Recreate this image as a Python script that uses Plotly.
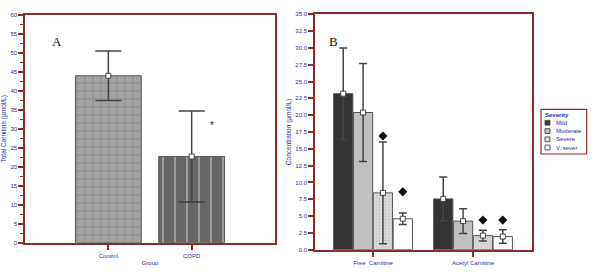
import plotly.graph_objects as go

# ---------------- data ----------------
groups_a = ["Control", "COPD"]
total_carnitine = [44.0, 22.7]
total_carnitine_sd = [6.5, 12.0]

categories_b = ["Free  Carnitine", "Acetyl Carnitine"]
severity = ["Mild", "Moderate", "Severe", "V. sever"]
mild = [23.2, 7.55]
mild_sd = [6.8, 3.25]
moderate = [20.4, 4.25]
moderate_sd = [7.3, 1.85]
severe = [8.45, 2.1]
severe_sd = [7.55, 0.8]
vsever = [4.6, 1.95]
vsever_sd = [0.85, 1.0]
sig_severe = [16.9, 4.4]
sig_vsever = [8.6, 4.4]
star_y = 31

# ---------------- styles ----------------
BLUE = "#2a2aa8"
RED = "#8e2a2a"
ERR = "#444444"
FONT = "Liberation Sans, Arial, sans-serif"
FS = 6

fig = go.Figure()

# Panel A bars
fig.add_trace(go.Bar(
    x=groups_a, y=total_carnitine, width=0.79,
    marker=dict(
        color=["#a3a3a3", "#666666"],
        line=dict(color="#555555", width=1),
        pattern=dict(shape=["+", "|"], bgcolor=["#a3a3a3", "#666666"],
                     fgcolor=["#555555", "#333333"], size=[8, 12], solidity=0.12),
    ),
    error_y=dict(type="data", array=total_carnitine_sd, color=ERR, thickness=1.5, width=13),
    showlegend=False, xaxis="x", yaxis="y",
))
fig.add_trace(go.Scatter(
    x=groups_a, y=total_carnitine, mode="markers",
    marker=dict(symbol="square", size=5, color="white", line=dict(color=ERR, width=1)),
    showlegend=False, xaxis="x", yaxis="y",
))

# Panel B bars
series_b = [
    (severity[0], mild, mild_sd, dict(color="#333333"), None),
    (severity[1], moderate, moderate_sd, dict(color="#c0c0c0"), None),
    (severity[2], severe, severe_sd,
     dict(color="#dcdcdc", pattern=dict(shape="+", bgcolor="#dcdcdc", fgcolor="#a8a8a8", size=3, solidity=0.3)),
     sig_severe),
    (severity[3], vsever, vsever_sd, dict(color="#ffffff"), sig_vsever),
]
for name, vals, sd, mk, sig in series_b:
    mk = dict(mk)
    mk["line"] = dict(color="#555555", width=1)
    fig.add_trace(go.Bar(
        x=categories_b, y=vals, name=name, marker=mk, offsetgroup=name,
        error_y=dict(type="data", array=sd, color=ERR, thickness=1.5, width=4),
        showlegend=False, xaxis="x2", yaxis="y2",
    ))
    fig.add_trace(go.Scatter(
        x=categories_b, y=vals, mode="markers", offsetgroup=name,
        marker=dict(symbol="square", size=5, color="white", line=dict(color=ERR, width=1)),
        showlegend=False, xaxis="x2", yaxis="y2",
    ))
    if sig is not None:
        fig.add_trace(go.Scatter(
            x=categories_b, y=sig, mode="markers", offsetgroup=name,
            marker=dict(symbol="diamond", size=7, color="#111111"),
            showlegend=False, xaxis="x2", yaxis="y2",
        ))

axis_common = dict(showline=True, linecolor=RED, linewidth=1.5, mirror=True, automargin=False,
                   showgrid=False, zeroline=False, ticks="outside", tickcolor=RED,
                   tickfont=dict(family=FONT, size=FS, color=BLUE))

fig.update_layout(
    width=600, height=278, margin=dict(l=0, r=0, t=0, b=0, autoexpand=False),
    paper_bgcolor="white", plot_bgcolor="white",
    barmode="group", bargap=0.206, bargroupgap=0.03,
    scattermode="group", scattergap=0.206,
    font=dict(family=FONT, size=FS, color=BLUE),
    xaxis=dict(domain=[0.0417, 0.4583], type="category", range=[-1, 2], ticklen=6, tickwidth=1.5,
               title=dict(text="Group", font=dict(size=FS, color=BLUE), standoff=3), **axis_common),
    yaxis=dict(domain=[0.127, 0.946], range=[0, 60], dtick=5, ticklen=5, tickwidth=1.5,
               minor=dict(dtick=2.5, ticklen=3, ticks="outside", tickcolor=RED, tickwidth=1),
               title=dict(text="Total Carnitine (µmol/L)", font=dict(size=6.5, color=BLUE), standoff=3),
               **axis_common),
    xaxis2=dict(domain=[0.525, 0.8872], type="category", range=[-0.58, 1.593], ticklen=6, tickwidth=1.5,
                anchor="y2", **axis_common),
    yaxis2=dict(domain=[0.1018, 0.9486], range=[0, 35], dtick=2.5, tickformat=".1f", ticklen=5, tickwidth=1.5,
                anchor="x2",
                title=dict(text="Concentration (µmol/L)", font=dict(size=6.5, color=BLUE), standoff=3),
                **axis_common),
)

# Panel labels and significance star
fig.add_annotation(text="A", x=0.083, y=0.885, xref="paper", yref="paper", showarrow=False,
                   font=dict(family="Liberation Serif, Times New Roman, serif", size=13, color="#111111"))
fig.add_annotation(text="B", x=0.555, y=0.885, xref="paper", yref="paper", showarrow=False,
                   font=dict(family="Liberation Serif, Times New Roman, serif", size=13, color="#111111"))
fig.add_annotation(text="*", x=groups_a[1], y=star_y, xref="x", yref="y", xshift=20, showarrow=False,
                   font=dict(family=FONT, size=10, color="#222222"))

# Manual legend (compact, like the reference)
lx0, lx1, ly_top, ly_bot = 541 / 600, 586.7 / 600, 1 - 109.3 / 278, 1 - 154 / 278
fig.add_shape(type="rect", xref="paper", yref="paper", x0=lx0, x1=lx1, y0=ly_bot, y1=ly_top,
              line=dict(color=RED, width=1.2), fillcolor="white")
fig.add_annotation(text="<b>Severity</b>", x=543 / 600, y=1 - 114.7 / 278, xref="paper", yref="paper",
                   xanchor="left", yanchor="middle", showarrow=False, font=dict(size=FS, color=BLUE))
item_y = [122.7, 131.1, 139.3, 147.5]
for (name, _, _, mk, _), py in zip(series_b, item_y):
    yc = 1 - py / 278
    fig.add_shape(type="rect", xref="paper", yref="paper",
                  x0=545 / 600, x1=550 / 600, y0=yc - 2.4 / 278, y1=yc + 2.4 / 278,
                  line=dict(color="#555555", width=1), fillcolor=mk["color"])
    fig.add_annotation(text=name, x=554 / 600, y=yc, xref="paper", yref="paper",
                       xanchor="left", yanchor="middle", showarrow=False, font=dict(size=FS, color=BLUE))

fig.write_html("out.html", config={"displayModeBar": False},
               post_script="document.body.style.margin='0';document.body.style.padding='0';")
